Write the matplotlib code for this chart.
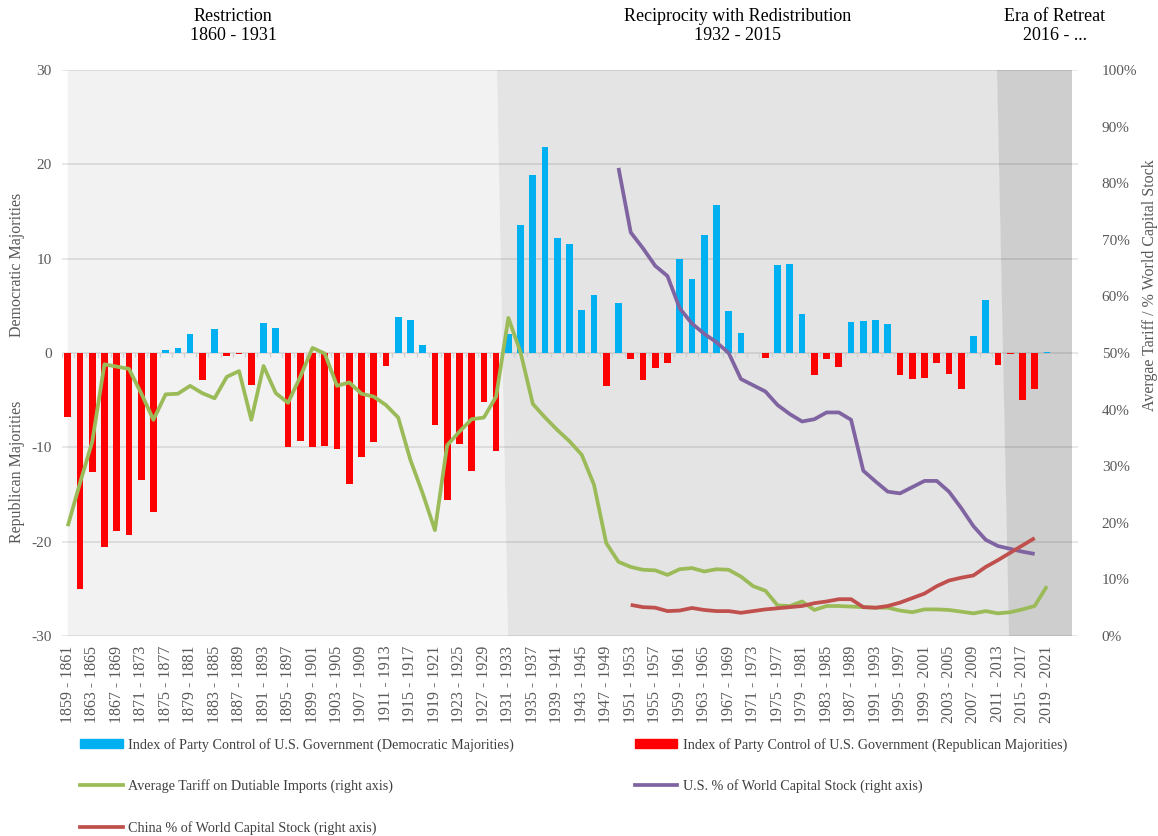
import numpy as np
import matplotlib
matplotlib.use('Agg')
import matplotlib.pyplot as plt
from matplotlib.patches import Patch
from matplotlib.lines import Line2D
from matplotlib.ticker import PercentFormatter

plt.rcParams['font.family'] = ['Liberation Serif', 'DejaVu Serif']
plt.rcParams['axes.unicode_minus'] = False

# two-year congresses, 1859 - 1861 ... 2023 - 2025
start_years = list(range(1859, 2024, 2))
categories = [f'{y} - {y + 2}' for y in start_years]

# index of party control (positive = Democratic, negative = Republican)
party_index = [
    -6.8, -25.0, -12.6, -20.6, -18.9, -19.3, -13.5, -16.9, 0.3, 0.5,
    2.0, -2.9, 2.5, -0.3, -0.1, -3.35, 3.2, 2.65, -10.0, -9.35,
    -10.0, -9.85, -10.2, -13.9, -11.0, -9.4, -1.4, 3.8, 3.5, 0.85,
    -7.65, -15.6, -9.6, -12.5, -5.15, -10.4, 2.0, 13.6, 18.9, 21.8,
    12.2, 11.6, 4.55, 6.15, -3.45, 5.35, -0.6, -2.9, -1.6, -1.05,
    10.0, 7.85, 12.5, 15.65, 4.4, 2.15, 0.0, -0.5, 9.35, 9.4,
    4.15, -2.35, -0.65, -1.5, 3.25, 3.35, 3.45, 3.1, -2.3, -2.75,
    -2.7, -1.05, -2.2, -3.85, 1.8, 5.6, -1.3, -0.15, -4.95, -3.8,
    0.1, 0.0, 0.0,
]

# average tariff on dutiable imports, % (from 1859 - 1861)
tariff = [
    19.4, 27.0, 34.3, 48.0, 47.6, 47.2, 42.9, 38.2, 42.7, 42.8,
    44.2, 42.9, 42.0, 45.8, 46.8, 38.2, 47.7, 42.9, 41.2, 45.8,
    50.9, 49.9, 44.2, 44.8, 42.8, 42.3, 40.8, 38.6, 31.1, 25.2,
    18.7, 33.7, 36.1, 38.3, 38.6, 42.3, 56.2, 50.1, 41.0, 38.6,
    36.4, 34.4, 32.0, 26.7, 16.4, 13.1, 12.2, 11.7, 11.6, 10.8,
    11.8, 12.0, 11.4, 11.8, 11.7, 10.5, 8.8, 8.0, 5.4, 5.3,
    6.1, 4.6, 5.3, 5.3, 5.2, 5.1, 5.0, 5.0, 4.5, 4.2,
    4.7, 4.7, 4.6, 4.3, 4.0, 4.4, 4.0, 4.2, 4.7, 5.3,
    8.8,
]

# U.S. % of world capital stock, % (from 1949 - 1951)
us_capital_first = 1949
us_capital = [
    82.7, 71.3, 68.5, 65.4, 63.6, 57.9, 55.2, 53.4, 51.9, 50.0,
    45.4, 44.3, 43.2, 40.8, 39.2, 37.9, 38.3, 39.5, 39.5, 38.2,
    29.2, 27.3, 25.5, 25.2, 26.3, 27.4, 27.4, 25.5, 22.6, 19.4,
    17.0, 15.9, 15.4, 14.9, 14.5,
]

# China % of world capital stock, % (from 1951 - 1953)
china_capital_first = 1951
china_capital = [
    5.5, 5.1, 5.0, 4.4, 4.5, 4.95, 4.6, 4.4, 4.4, 4.1,
    4.4, 4.7, 4.9, 5.1, 5.3, 5.8, 6.1, 6.5, 6.5, 5.1,
    5.0, 5.3, 5.9, 6.7, 7.5, 8.8, 9.8, 10.3, 10.7, 12.2,
    13.4, 14.7, 16.0, 17.3,
]

eras = ['Restriction\n1860 - 1931',
        'Reciprocity with Redistribution\n1932 - 2015',
        'Era of Retreat\n2016 - ...']

N = len(categories)
x = np.arange(N)
idx = np.array(party_index)
dem = np.where(idx > 0, idx, 0)
rep = np.where(idx < 0, idx, 0)


def pad(values, first_year):
    arr = np.full(N, np.nan)
    i0 = start_years.index(first_year)
    arr[i0:i0 + len(values)] = np.array(values) / 100
    return arr


tariff_s = pad(tariff, 1859)
us_s = pad(us_capital, us_capital_first)
china_s = pad(china_capital, china_capital_first)

W, H = 1158, 836
fig = plt.figure(figsize=(W / 100, H / 100), dpi=100)
ax = fig.add_axes([61.6 / W, 1 - 636 / H, (1077.5 - 61.6) / W, 566 / H])
ax.set_xlim(-0.5, N - 0.5)
ax.set_ylim(-30, 30)

# era shading (slanted shapes)
ax.fill([0, 35.07, 35.97, 0], [30, 30, -30, -30], color='#f2f2f2', lw=0, zorder=0.1)
ax.fill([35.07, 75.95, 76.93, 35.97], [30, 30, -30, -30], color='#e4e4e4', lw=0, zorder=0.1)
ax.fill([75.95, 82.02, 82.02, 76.93], [30, 30, -30, -30], color='#cecece', lw=0, zorder=0.1)

ax.set_axisbelow(True)
ax.yaxis.grid(True, color='black', alpha=0.11, lw=1.2)
ax.set_yticks(range(-30, 31, 10))

ax.bar(x, dem, width=0.55, color='#00b0f0', lw=0, zorder=2)
ax.bar(x, rep, width=0.55, color='#ff0000', lw=0, zorder=2)

# category tick marks on the zero line
ax.vlines(np.arange(N + 1) - 0.5, -0.45, 0, color='#d0d0d0', lw=1, zorder=1)

ax.set_xticks(x)
ax.set_xticklabels([c if i % 2 == 0 and i < N - 1 else '' for i, c in enumerate(categories)],
                   rotation=90)
ax.tick_params(axis='x', length=0, pad=7, labelsize=11.5, labelcolor='#595959')
ax.tick_params(axis='y', length=0, pad=7, labelsize=11, labelcolor='#595959')
for s in ax.spines.values():
    s.set_visible(False)

ax2 = ax.twinx()
ax2.set_ylim(0, 1)
ax2.set_yticks(np.arange(0, 1.01, 0.1))
ax2.yaxis.set_major_formatter(PercentFormatter(1.0, decimals=0))
ax2.tick_params(axis='y', length=0, pad=17.5, labelsize=11, labelcolor='#595959')
for s in ax2.spines.values():
    s.set_visible(False)

line_kw = dict(lw=2.7, solid_joinstyle='round', solid_capstyle='butt')
ax2.plot(x, tariff_s, color='#9bbb59', **line_kw)
ax2.plot(x, us_s, color='#8064a2', **line_kw)
ax2.plot(x, china_s, color='#c0504d', **line_kw)

fig.text(17 / W, 1 - 265 / H, 'Democratic Majorities', rotation=90, ha='center', va='center',
         fontsize=11.5, color='#595959')
fig.text(17 / W, 1 - 472 / H, 'Republican Majorities', rotation=90, ha='center', va='center',
         fontsize=11.5, color='#595959')
fig.text(1150 / W, 1 - 285 / H, 'Avergae Tariff / % World Capital Stock', rotation=90,
         ha='center', va='center', fontsize=11.5, color='#595959')

for label, cx in zip(eras, [233, 738, 1055]):
    fig.text(cx / W, 1 - 8 / H, label, ha='center', va='top', fontsize=13,
             color='black', linespacing=1.15)

handles = [
    Patch(color='#00b0f0', label='Index of Party Control of U.S. Government (Democratic Majorities)'),
    Line2D([], [], color='#9bbb59', lw=2.7, label='Average Tariff on Dutiable Imports (right axis)'),
    Line2D([], [], color='#c0504d', lw=2.7, label='China % of World Capital Stock (right axis)'),
    Patch(color='#ff0000', label='Index of Party Control of U.S. Government (Republican Majorities)'),
    Line2D([], [], color='#8064a2', lw=2.7, label='U.S. % of World Capital Stock (right axis)'),
]
leg = fig.legend(handles=handles, ncol=2, loc='upper left', bbox_to_anchor=(80 / W, 1 - 738 / H),
                 frameon=False, fontsize=10.2, handlelength=3.0, handleheight=0.6,
                 handletextpad=0.42, labelspacing=1.93, columnspacing=8.5,
                 borderpad=0, borderaxespad=0)
for t in leg.get_texts():
    t.set_color('#404040')

fig.savefig('out.png', dpi=100)
